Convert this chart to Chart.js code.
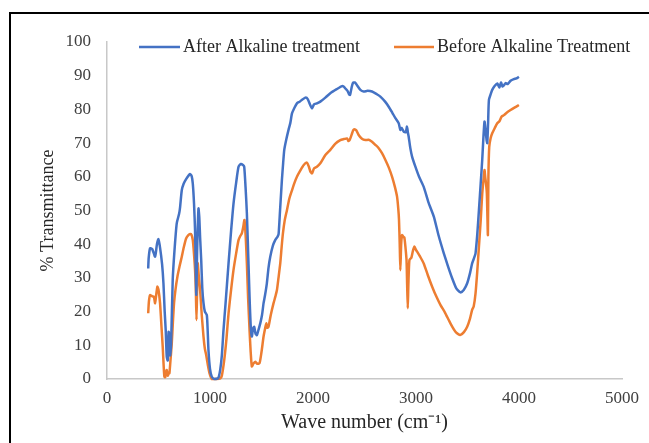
<!DOCTYPE html>
<html>
<head>
<meta charset="utf-8">
<script src="https://cdn.jsdelivr.net/npm/chart.js@4"></script>
<style>
  html, body { margin: 0; padding: 0; background: #fff; overflow: hidden; }
  #wrap { position: relative; width: 649px; height: 443px; }
  #frame { position: absolute; left: 9px; top: 12px; width: 700px; height: 500px; border: 2px solid #000; pointer-events: none; }
  canvas { position: absolute; left: 0; top: 0; }
</style>
</head>
<body>
<div id="wrap">
  <div id="frame"></div>
  <canvas id="ftirChart" width="649" height="443"></canvas>
</div>
<script>
// wave numbers (cm-1) and % transmittance
const waveAfter = [400, 405, 418, 440, 467, 485, 499, 515, 535, 548, 560, 570, 580, 590, 598, 606, 613, 622, 638, 655,
  677, 700, 710, 726, 745, 768, 795, 807, 822, 833, 845, 855, 862, 867, 875, 888, 896, 904, 915, 925,
  937, 950, 969, 978, 985, 1000, 1017, 1040, 1080, 1099, 1115, 1131, 1150, 1180, 1205, 1228, 1255, 1277, 1300, 1320,
  1332, 1345, 1358, 1372, 1384, 1395, 1406, 1418, 1429, 1442, 1455, 1470, 1488, 1505, 1520, 1535, 1552, 1568, 1585, 1610,
  1633, 1655, 1666, 1680, 1698, 1710, 1721, 1740, 1763, 1780, 1796, 1820, 1844, 1870, 1900, 1930, 1950, 1970, 1990, 2010,
  2038, 2071, 2120, 2168, 2230, 2282, 2300, 2314, 2335, 2350, 2360, 2375, 2388, 2405, 2427, 2460, 2492, 2530, 2573, 2620,
  2654, 2700, 2735, 2770, 2800, 2832, 2848, 2860, 2881, 2900, 2913, 2922, 2929, 2945, 2962, 2994, 3030, 3075, 3120, 3173,
  3220, 3270, 3310, 3351, 3390, 3432, 3465, 3497, 3525, 3545, 3565, 3578, 3595, 3611, 3628, 3643, 3655, 3665, 3675, 3685,
  3692, 3700, 3708, 3725, 3740, 3765, 3789, 3810, 3825, 3840, 3854, 3870, 3890, 3918, 3950, 3975, 3999];
const tAfter = [32.8, 36, 38.8, 38.5, 36.3, 40, 41.5, 39, 34, 28.4, 20, 14.5, 6.6, 5.5, 14, 13, 7, 10, 29.4, 38,
  46.2, 49, 51.1, 56, 58, 59.3, 60.5, 60.8, 60.2, 58, 52, 44, 32, 25, 38, 50.6, 48, 42, 35, 27,
  22.5, 20, 19, 14, 8.6, 3, 0.7, 0, 0.3, 2.7, 7, 14.5, 22, 34.3, 44, 52, 58.5, 63, 63.8, 63.5,
  63, 57, 49.2, 36, 24.4, 16, 12.6, 15, 15.5, 13.5, 13, 14.5, 16.5, 19, 22.5, 25, 28.4, 33, 36.3, 39.5,
  41.2, 42.2, 43, 50, 59, 64, 68, 71, 74, 76, 78.8, 80.5, 81.8, 82.3, 83, 83.5, 83, 81.5, 80.3, 81.5,
  81.8, 82.3, 83.5, 84.8, 86, 86.9, 86.7, 86.2, 85.5, 84.5, 84.3, 86.5, 87.9, 88, 87.2, 85.8, 85.3, 85.5, 85.3, 84.5,
  83.8, 82.3, 80.8, 79, 77.4, 75.9, 73.9, 74.5, 73.4, 73.2, 74.9, 73, 71.9, 68.5, 66, 63, 60, 57, 52.5, 48.2,
  42.5, 37.3, 33.5, 29.9, 27, 25.7, 26.5, 28.4, 31.5, 34.3, 36, 37.3, 43, 50.1, 58, 65, 72, 76.4, 74, 71,
  70, 76, 82.8, 84.5, 85.8, 87, 87.7, 86.5, 88, 86.8, 87.2, 87.8, 87.5, 88.5, 89, 89.2, 89.7];

const waveBefore = [400, 407, 418, 440, 455, 467, 478, 489, 500, 515, 530, 541, 550, 557, 565, 572, 580, 590, 600, 606,
  615, 629, 640, 651, 665, 684, 705, 726, 745, 768, 790, 807, 820, 833, 845, 855, 862, 869, 875, 881,
  890, 904, 920, 937, 950, 963, 980, 995, 1017, 1060, 1100, 1115, 1138, 1160, 1180, 1205, 1228, 1255, 1277, 1295,
  1309, 1322, 1335, 1347, 1358, 1370, 1384, 1395, 1406, 1420, 1439, 1460, 1481, 1500, 1520, 1535, 1546, 1556, 1568, 1590,
  1617, 1635, 1650, 1665, 1682, 1695, 1708, 1725, 1747, 1770, 1796, 1820, 1844, 1876, 1910, 1941, 1960, 1975, 1990, 2010,
  2038, 2071, 2120, 2168, 2215, 2265, 2300, 2330, 2345, 2356, 2375, 2390, 2401, 2420, 2443, 2475, 2508, 2540, 2573, 2605,
  2638, 2670, 2703, 2735, 2768, 2795, 2816, 2828, 2835, 2842, 2848, 2856, 2865, 2877, 2887, 2898, 2908, 2914, 2920, 2926,
  2936, 2955, 2970, 2985, 3000, 3011, 3040, 3075, 3115, 3157, 3200, 3237, 3280, 3318, 3350, 3383, 3410, 3432, 3465, 3497,
  3525, 3545, 3560, 3578, 3595, 3611, 3628, 3643, 3655, 3665, 3672, 3680, 3688, 3698, 3703, 3711, 3725, 3740, 3765, 3789,
  3810, 3830, 3854, 3880, 3918, 3960, 3999];
const tBefore = [19.5, 23, 24.9, 24.5, 24.4, 22.5, 25, 27.4, 26.5, 22.5, 15, 9.6, 4, 0.7, 0.5, 1.8, 2.7, 1, 1.7, 1.7,
  5, 10.6, 17, 22.5, 26.5, 30.4, 33.5, 36.3, 39, 41.7, 42.7, 43, 42.8, 41.2, 37, 32.3, 27, 17.5, 27, 34.3,
  31, 26.4, 19, 12.6, 9, 7.1, 4, 1.7, 0, 0, 0.2, 1, 5.6, 12, 19.5, 26.5, 32.3, 37.5, 41.2, 42.5,
  43.2, 45, 47.2, 42, 34.3, 24, 14.5, 8, 3.7, 4.5, 5.1, 4.5, 4.7, 8, 12.6, 15, 16.5, 15.2, 15.5, 19,
  22.5, 24.5, 26.4, 30, 34.3, 39, 43.2, 47, 50.1, 53.5, 56, 58.2, 60, 61.8, 63.5, 64.2, 63, 61.5, 61, 62.5,
  63, 64, 66.5, 68, 69.8, 70.9, 71.2, 71.4, 70.6, 70.9, 72.5, 73.8, 74.1, 73.8, 72.4, 71.3, 70.9, 71, 70.4, 69.5,
  68.5, 67, 65, 62.8, 60, 57, 54.1, 50.5, 47.2, 40, 32.3, 40, 42.7, 42.2, 42, 39, 35.3, 28, 21, 28,
  35.3, 36, 38, 39.3, 38.3, 37.8, 36.3, 34.3, 30.8, 27.4, 24.3, 22, 19.8, 17.5, 15.6, 14, 13.3, 13.1, 13.9, 15.5,
  18, 20.5, 21.5, 25.4, 32, 39.3, 47, 55, 59, 62, 60, 58, 55, 42.7, 60, 68.9, 71.5, 72.9, 74.5, 75.9,
  76.5, 77.8, 78.3, 79, 79.8, 80.6, 81.3];

const seriesNames = ['After Alkaline treatment', 'Before Alkaline Treatment'];
const seriesColors = ['#4472C4', '#ED7D31'];

const serif = 'Liberation Serif, Times New Roman, serif';

function toPoints(xs, ys) {
    return xs.map((x, i) => ({ x: x, y: ys[i] }));
}

// legend drawn on top of the plot, like the original figure
const overlayLegend = {
    id: 'overlayLegend',
    afterDraw(chart) {
        const ctx = chart.ctx;
        const items = [
            { x1: 139, x2: 180, tx: 183 },
            { x1: 394, x2: 434, tx: 437 }
        ];
        const y = 47;
        ctx.save();
        ctx.font = '18px ' + serif;
        ctx.textBaseline = 'middle';
        ctx.fillStyle = '#262626';
        chart.data.datasets.forEach((ds, i) => {
            const it = items[i];
            ctx.strokeStyle = ds.borderColor;
            ctx.lineWidth = 2.5;
            ctx.beginPath();
            ctx.moveTo(it.x1, y);
            ctx.lineTo(it.x2, y);
            ctx.stroke();
            ctx.fillText(ds.label, it.tx, y);
        });
        ctx.restore();
    }
};

const ctxChart = document.getElementById('ftirChart');
new Chart(ctxChart, {
    type: 'scatter',
    data: {
        datasets: [
            {
                label: seriesNames[0],
                data: toPoints(waveAfter, tAfter),
                borderColor: seriesColors[0],
                backgroundColor: seriesColors[0],
                borderWidth: 2.5,
                showLine: true,
                pointRadius: 0,
                tension: 0.2,
                clip: false
            },
            {
                label: seriesNames[1],
                data: toPoints(waveBefore, tBefore),
                borderColor: seriesColors[1],
                backgroundColor: seriesColors[1],
                borderWidth: 2.5,
                showLine: true,
                pointRadius: 0,
                tension: 0.2,
                clip: false
            }
        ]
    },
    options: {
        responsive: false,
        animation: false,
        layout: { padding: { left: 0, right: 27, top: 42, bottom: 0 } },
        plugins: {
            legend: { display: false },
            tooltip: { enabled: false }
        },
        scales: {
            x: {
                type: 'linear',
                min: 0,
                max: 5000,
                ticks: {
                    stepSize: 1000,
                    padding: 9,
                    color: '#404040',
                    font: { family: serif, size: 17 },
                    callback: value => String(value)
                },
                grid: { display: false, drawTicks: false },
                border: { display: true, color: '#c8c8c8', width: 1.5 },
                title: {
                    display: true,
                    text: 'Wave number (cm⁻¹)',
                    color: '#262626',
                    font: { family: serif, size: 20 },
                    padding: { top: 0, bottom: 8 }
                },
                afterFit(scale) { scale.height = 64; }
            },
            y: {
                min: 0,
                max: 100,
                ticks: { stepSize: 10, padding: 16, color: '#404040', font: { family: serif, size: 17 } },
                grid: { display: false, drawTicks: false },
                border: { display: true, color: '#c8c8c8', width: 1.5 },
                title: {
                    display: true,
                    text: '% Transmittance',
                    color: '#262626',
                    font: { family: serif, size: 18 },
                    padding: { top: 37, bottom: 0 }
                },
                afterFit(scale) { scale.width = 107; }
            }
        }
    },
    plugins: [overlayLegend]
});
</script>
</body>
</html>
